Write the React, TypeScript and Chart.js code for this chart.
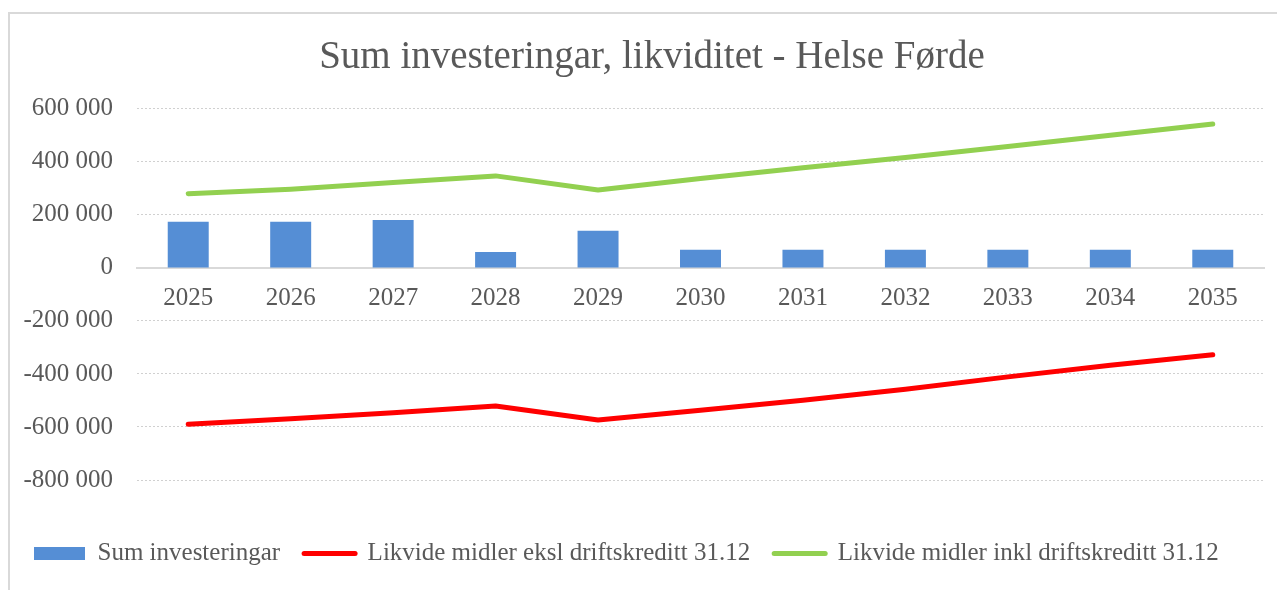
import React, { useEffect, useRef } from 'react';
import { Chart, registerables } from 'chart.js';

Chart.register(...registerables);

const years = ['2025', '2026', '2027', '2028', '2029', '2030', '2031', '2032', '2033', '2034', '2035'];
const sumInvesteringar = [174000, 174000, 181000, 60000, 140000, 68000, 68000, 68000, 68000, 68000, 68000];
const likvideEksl = [-590000, -569000, -546000, -521000, -574000, -537000, -499000, -458000, -411000, -367000, -328000];
const likvideInkl = [280000, 297000, 322000, 347000, 294000, 337000, 378000, 416000, 458000, 500000, 543000];

const yMin = -800000;
const yMax = 600000;
const yStep = 200000;

const TEXT = '#595959';
const FONT = "'Liberation Serif', 'Times New Roman', serif";

function fmt(v: number): string {
  const s = Math.abs(Math.round(v)).toString().replace(/\B(?=(\d{3})+(?!\d))/g, ' ');
  return (v < 0 ? '-' : '') + s;
}

const shiftTitle = {
  id: 'shiftTitle',
  afterLayout(chart: any) {
    const t = chart.titleBlock;
    if (t) {
      t.left += 15;
      t.right += 15;
    }
  },
};

export default function App() {
  const ref = useRef<HTMLCanvasElement>(null);

  useEffect(() => {
    Chart.defaults.font.family = FONT;
    const chart = new Chart(ref.current!, {
      type: 'bar',
      plugins: [shiftTitle],
      data: {
        labels: years,
        datasets: [
          {
            type: 'bar',
            label: 'Sum investeringar',
            data: sumInvesteringar,
            backgroundColor: '#558ed5',
            borderWidth: 0,
            barPercentage: 0.4,
            categoryPercentage: 1,
            xAxisID: 'x',
            yAxisID: 'y',
            order: 0,
          } as any,
          {
            type: 'line',
            label: 'Likvide midler eksl driftskreditt 31.12',
            data: likvideEksl,
            borderColor: '#ff0000',
            backgroundColor: '#ff0000',
            borderWidth: 5,
            pointRadius: 0,
            pointHoverRadius: 0,
            borderCapStyle: 'round',
            borderJoinStyle: 'round',
            tension: 0,
            xAxisID: 'x',
            yAxisID: 'y',
            order: 1,
          } as any,
          {
            type: 'line',
            label: 'Likvide midler inkl driftskreditt 31.12',
            data: likvideInkl,
            borderColor: '#92d050',
            backgroundColor: '#92d050',
            borderWidth: 5,
            pointRadius: 0,
            pointHoverRadius: 0,
            borderCapStyle: 'round',
            borderJoinStyle: 'round',
            tension: 0,
            xAxisID: 'x',
            yAxisID: 'y',
            order: 2,
          } as any,
        ],
      },
      options: {
        responsive: false,
        animation: false,
        devicePixelRatio: 1,
        layout: { padding: { left: 0, right: 18, top: 0, bottom: 18 } },
        plugins: {
          tooltip: { enabled: false },
          title: {
            display: true,
            text: 'Sum investeringar, likviditet - Helse Førde',
            color: TEXT,
            font: { size: 39, weight: 'normal', family: FONT, lineHeight: 1.2 },
            padding: { top: 20, bottom: 28 },
          },
          legend: {
            position: 'bottom',
            align: 'start',
            labels: {
              usePointStyle: true,
              pointStyleWidth: 51,
              boxHeight: 13,
              padding: 24,
              color: TEXT,
              font: { size: 25, family: FONT },
              generateLabels: (c: any) => {
                const items = Chart.defaults.plugins.legend.labels.generateLabels(c);
                return items.map((it: any) => {
                  if (it.datasetIndex === 0) {
                    return { ...it, pointStyle: 'rect', lineWidth: 0, strokeStyle: 'rgba(0,0,0,0)' };
                  }
                  return { ...it, pointStyle: 'line', lineWidth: 5, lineCap: 'round' };
                });
              },
            },
          },
        },
        scales: {
          x: {
            type: 'category',
            position: { y: 0 } as any,
            offset: true,
            grid: { display: false, drawTicks: false },
            border: { display: true, color: '#d9d9d9', width: 2 },
            ticks: { color: TEXT, font: { size: 25, family: FONT }, padding: 16, maxRotation: 0 },
          },
          y: {
            type: 'linear',
            position: 'left',
            min: yMin,
            max: yMax,
            ticks: {
              stepSize: yStep,
              color: TEXT,
              font: { size: 25, family: FONT },
              padding: 24,
              callback: (v: any) => fmt(Number(v)),
            },
            grid: { color: '#d0d0d0', lineWidth: 1, drawTicks: false },
            border: { display: false, dash: [2, 2] },
            afterFit: (s: any) => {
              s.width = 127;
            },
          },
          pad: {
            type: 'category',
            position: 'bottom',
            display: true,
            grid: { display: false, drawTicks: false },
            border: { display: false },
            ticks: { display: false },
            afterFit: (s: any) => {
              s.height = 37;
            },
          },
        } as any,
      },
    });
    return () => chart.destroy();
  }, []);

  return (
    <div
      style={{
        position: 'relative',
        top: 4,
        width: 1272,
        height: 580,
        borderTop: '2px solid #d9d9d9',
        borderLeft: '2px solid #d9d9d9',
        borderRight: '2px solid #d9d9d9',
        background: '#ffffff',
      }}
    >
      <canvas ref={ref} width={1272} height={580} style={{ display: 'block' }} />
    </div>
  );
}
